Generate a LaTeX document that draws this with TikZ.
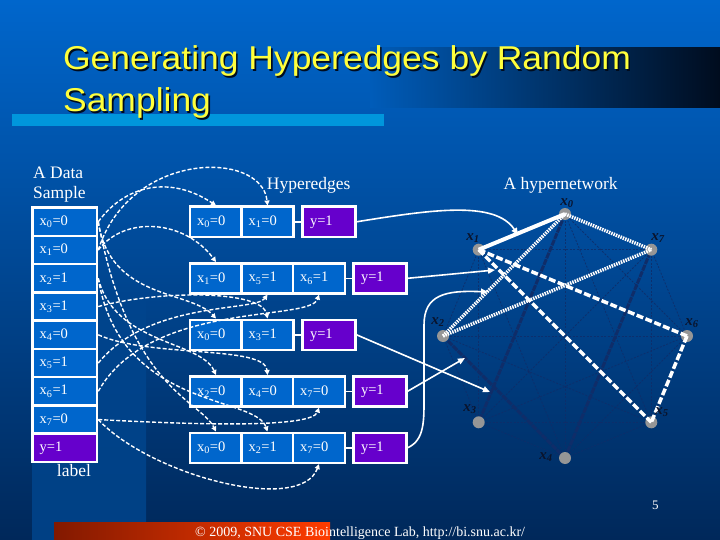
\documentclass[tikz,border=0pt]{standalone}
\usepackage{fontspec}
\setmainfont{Liberation Serif}
\newfontfamily\titlefont[FakeStretch=1.075]{Liberation Sans}
\usetikzlibrary{arrows.meta}
\definecolor{bgtop}{RGB}{0,102,204}
\definecolor{bgmid}{RGB}{0,68,141}
\definecolor{bgbot}{RGB}{0,40,90}
\definecolor{bandbot}{RGB}{0,64,132}
\definecolor{cellblue}{RGB}{0,102,204}
\definecolor{cellpurple}{RGB}{102,0,204}
\definecolor{titleyellow}{RGB}{255,255,60}
\definecolor{lightbar}{RGB}{0,150,220}
\definecolor{darkedge}{RGB}{15,45,105}
\definecolor{nodegray}{RGB}{150,150,150}
\definecolor{labeldark}{RGB}{10,20,45}
\definecolor{redl}{RGB}{130,25,0}
\definecolor{redr}{RGB}{255,60,0}
\definecolor{barblue}{RGB}{0,92,185}
\definecolor{barblack}{RGB}{0,12,30}
\newcommand\cellfont{\fontsize{14.5}{16}\selectfont}
\newcommand\headfont{\fontsize{17.5}{20}\selectfont}
\newcommand\shadowed[1]{\rlap{\hspace{1.6pt}\raisebox{-1.5pt}{\textcolor{barblack}{#1}}}#1}
\begin{document}
\begin{tikzpicture}[x=1pt,y=-1pt,
  dcell/.style={draw=white, line width=2.6pt, fill=cellblue, minimum width=64.5pt,
    minimum height=28.3pt, text width=50pt, inner xsep=7pt, inner ysep=0pt,
    align=left, text=white, font=\cellfont},
  hcell/.style={dcell, minimum width=51.5pt, text width=38pt, minimum height=30pt},
  ycell/.style={hcell, fill=cellpurple, minimum width=52.5pt},
  link/.style={white, line width=1.5pt},
  dconn/.style={white, line width=1.4pt, dash pattern=on 4pt off 2pt,
    -{Triangle[width=5pt,length=5pt]}},
  sconn/.style={white, line width=1.6pt, -{Triangle[width=6pt,length=7pt]}},
  hnode/.style={circle, fill=nodegray, minimum size=12pt, inner sep=0pt},
  hlab/.style={text=labeldark, font=\fontsize{15}{16}\selectfont\bfseries\itshape, inner sep=0pt},
  faint/.style={darkedge, line width=0.8pt, dash pattern=on 2pt off 1.5pt, opacity=0.85},
  thickdark/.style={darkedge, line width=3pt, dash pattern=on 6pt off 1pt},
  wsolid/.style={white, line width=4pt},
  wdash/.style={white, line width=3.5pt, dash pattern=on 7pt off 2.5pt},
  wdot/.style={white, line width=3.5pt, dash pattern=on 1.5pt off 1pt},
  htext/.style={text=white, font=\headfont, inner sep=0pt, anchor=base west},
  ttext/.style={anchor=base west, inner sep=0pt, text=titleyellow, font=\titlefont\fontsize{33}{38}\selectfont}
]
\useasboundingbox (0,0) rectangle (720,540);
% background
\shade[top color=bgtop, bottom color=bgbot] (0,0) rectangle (720,540);
\shade[top color=bgmid, bottom color=bandbot] (32,300) rectangle (146,540);
\shade[left color=barblue, right color=barblack] (370,48) rectangle (720,108);
\fill[lightbar] (12,114) rectangle (384,126);
\shade[left color=redl, right color=redr] (54,522) rectangle (330,540);
% title with shadow
\node[ttext] (t1) at (62.9,70) {\shadowed{Generating Hyperedges by Random}};
\node[ttext] (t2) at (62.9,111.7) {\shadowed{Sampling}};
% headings
\node[htext] (dsA) at (33,178.3) {A Data};
\node[htext] (dsB) at (33,199) {Sample};
\node[htext] (hyp) at (266.7,189.3) {Hyperedges};
\node[htext] (hnet) at (503.3,190) {A hypernetwork};
\node[htext] (lab) at (56.7,476) {label};
% data sample column
\node[dcell] (d0) at (64.7,221.8) {x\textsubscript{0}=0};
\node[dcell] (d1) at (64.7,250.05) {x\textsubscript{1}=0};
\node[dcell] (d2) at (64.7,278.3) {x\textsubscript{2}=1};
\node[dcell] (d3) at (64.7,306.55) {x\textsubscript{3}=1};
\node[dcell] (d4) at (64.7,334.8) {x\textsubscript{4}=0};
\node[dcell] (d5) at (64.7,363.05) {x\textsubscript{5}=1};
\node[dcell] (d6) at (64.7,391.3) {x\textsubscript{6}=1};
\node[dcell] (d7) at (64.7,419.55) {x\textsubscript{7}=0};
\node[dcell, fill=cellpurple] (d8) at (64.7,447.8) {y=1};
% hyperedges
\node[hcell] (h1a) at (216,221.8) {x\textsubscript{0}=0};
\node[hcell] (h1b) at (267.5,221.8) {x\textsubscript{1}=0};
\node[ycell] (h1y) at (329,221.8) {y=1};
\node[hcell] (h2a) at (216,278.3) {x\textsubscript{1}=0};
\node[hcell] (h2b) at (267.5,278.3) {x\textsubscript{5}=1};
\node[hcell] (h2c) at (319,278.3) {x\textsubscript{6}=1};
\node[ycell] (h2y) at (380,278.3) {y=1};
\node[hcell] (h3a) at (216,334.8) {x\textsubscript{0}=0};
\node[hcell] (h3b) at (267.5,334.8) {x\textsubscript{3}=1};
\node[ycell] (h3y) at (329,334.8) {y=1};
\node[hcell] (h4a) at (216,391.3) {x\textsubscript{2}=0};
\node[hcell] (h4b) at (267.5,391.3) {x\textsubscript{4}=0};
\node[hcell] (h4c) at (319,391.3) {x\textsubscript{7}=0};
\node[ycell] (h4y) at (380,391.3) {y=1};
\node[hcell] (h5a) at (216,447.8) {x\textsubscript{0}=0};
\node[hcell] (h5b) at (267.5,447.8) {x\textsubscript{2}=1};
\node[hcell] (h5c) at (319,447.8) {x\textsubscript{7}=0};
\node[ycell] (h5y) at (380,447.8) {y=1};
\draw[link] (h1b.east) -- (h1y.west);
\draw[link] (h2c.east) -- (h2y.west);
\draw[link] (h3b.east) -- (h3y.west);
\draw[link] (h4c.east) -- (h4y.west);
\draw[link] (h5c.east) -- (h5y.west);
% dashed sampling arrows
\draw[dconn] (d0.east) .. controls (125,185) and (170,175) .. (h1a.north);
\draw[dconn] (d1.east) .. controls (130,150) and (262,150) .. (h1b.north);
\draw[dconn] (d1.east) .. controls (125,215) and (185,220) .. (h2a.north);
\draw[dconn] (d5.east) .. controls (150,300) and (255,312) .. (h2b.south);
\draw[dconn] (d6.east) .. controls (150,300) and (310,322) .. (h2c.south);
\draw[dconn] (d0.east) .. controls (110,300) and (190,290) .. (h3a.north);
\draw[dconn] (d3.east) .. controls (160,290) and (262,290) .. (h3b.north);
\draw[dconn] (d2.east) .. controls (115,345) and (200,340) .. (h4a.north);
\draw[dconn] (d4.east) .. controls (150,358) and (265,345) .. (h4b.north);
\draw[dconn] (d7.east) .. controls (200,425) and (312,428) .. (h4c.south);
\draw[dconn] (d0.east) .. controls (130,390) and (200,400) .. (h5a.north);
\draw[dconn] (d2.east) .. controls (120,410) and (255,395) .. (h5b.north);
\draw[dconn] (d7.east) .. controls (150,475) and (300,515) .. (h5c.south);
% hypernetwork node positions
\coordinate (c0) at (565,214);
\coordinate (c1) at (478.7,249.7);
\coordinate (c2) at (443,336);
\coordinate (c3) at (478.7,422.3);
\coordinate (c4) at (565,458);
\coordinate (c5) at (651.3,422.3);
\coordinate (c6) at (687,336);
\coordinate (c7) at (651.3,249.7);
% faint complete graph
\foreach \i in {0,...,7}{
  \foreach \j in {0,...,7}{
    \ifnum\i<\j \draw[faint] (c\i) -- (c\j); \fi
  }
}
\draw[thickdark] (c0) -- (c3);
\draw[thickdark] (c2) -- (c4);
\draw[thickdark] (c4) -- (c7);
% nodes
\foreach \k in {0,...,7}{ \node[hnode] (n\k) at (c\k) {}; }
% white hyperedges
\draw[wsolid] (n1.center) -- (n0.center);
\draw[wdash] (n1.center) -- (n6.center);
\draw[wdash] (n1.center) -- (n5.center);
\draw[wdash] (n6.center) -- (n5.center);
\draw[wdot] (n2.center) -- (n0.center);
\draw[wdot] (n0.center) -- (n7.center);
\draw[wdot] (n2.center) -- (n7.center);
% node labels
\node[hlab] (l0) at (567,203) {x\textsubscript{0}};
\node[hlab] (l1) at (473,238) {x\textsubscript{1}};
\node[hlab] (l7) at (658,238) {x\textsubscript{7}};
\node[hlab] (l2) at (438,322) {x\textsubscript{2}};
\node[hlab] (l6) at (692,323) {x\textsubscript{6}};
\node[hlab] (l3) at (470,409) {x\textsubscript{3}};
\node[hlab] (l5) at (662,412) {x\textsubscript{5}};
\node[hlab] (l4) at (546,457) {x\textsubscript{4}};
% arrows to hypernetwork
\coordinate (e1) at (518,235);
\coordinate (e2) at (495,270);
\coordinate (e3) at (490,392);
\coordinate (e4) at (465,358);
\coordinate (e5) at (488,292);
\draw[sconn] (h1y.east) .. controls (430,210) and (495,200) .. (e1);
\draw[sconn] (h2y.east) -- (e2);
\draw[sconn] (h3y.east) -- (e3);
\draw[sconn] (h4y.east) -- (e4);
\draw[sconn] (h5y.east) .. controls (425,440) and (424,420) .. (424,395) -- (424,325) .. controls (424,295) and (445,290) .. (e5);
% footer
\node[anchor=base west, inner sep=0pt, text=white, font=\fontsize{14}{16}\selectfont] (foot) at (195,536.5) {© 2009, SNU CSE Biointelligence Lab, http://bi.snu.ac.kr/};
\node[anchor=base west, inner sep=0pt, text=white, font=\fontsize{13}{15}\selectfont] (pg) at (652,509) {5};
\end{tikzpicture}
\end{document}
